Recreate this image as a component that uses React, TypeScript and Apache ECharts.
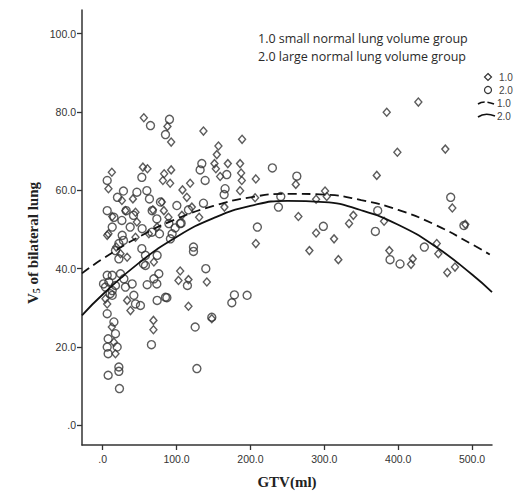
import React, { useEffect, useRef } from "react";
import * as echarts from "echarts";

// Group 1.0 (small normal lung volume) – diamonds: [GTV, V5]
const group1Points: number[][] = [
  [55.7, 78.5], [87.7, 76.3], [92.7, 72.3], [136.4, 75.1], [188.7, 73.0], [156.7, 71.3],
  [154.5, 69.1], [151.3, 66.8], [153.2, 65.5], [169.4, 66.8], [186.0, 66.8], [159.0, 63.5],
  [187.4, 64.4], [188.3, 62.5], [207.3, 62.9], [118.4, 61.8], [108.0, 60.1], [113.9, 58.2],
  [186.0, 59.9], [164.8, 55.7], [206.3, 58.1], [120.7, 55.7], [130.6, 53.1], [107.2, 53.6],
  [261.4, 61.5], [288.9, 57.7], [301.0, 59.8], [303.3, 58.4], [264.9, 53.3], [207.3, 46.4],
  [288.9, 49.1], [313.2, 47.6], [279.8, 44.6], [319.0, 42.3], [339.3, 53.6], [333.5, 51.5],
  [371.0, 63.8], [380.9, 52.1], [384.5, 79.9], [427.3, 82.5], [398.9, 69.7], [463.8, 70.5],
  [473.3, 55.5], [490.9, 51.3], [388.0, 44.6], [419.7, 42.5], [417.4, 41.1], [452.2, 46.4],
  [454.3, 43.8], [466.5, 39.0], [476.9, 40.4], [104.9, 39.4], [102.6, 37.0], [116.1, 37.2],
  [141.0, 36.6], [116.1, 30.4], [68.7, 26.8], [68.7, 24.4], [147.7, 27.2], [12.4, 64.6],
  [54.4, 65.9], [60.6, 65.5], [83.2, 64.2], [92.7, 65.2], [81.5, 62.5], [91.3, 61.8],
  [7.8, 60.4], [26.0, 57.4], [40.9, 57.8], [80.1, 57.0], [67.9, 55.0], [12.9, 53.3],
  [46.3, 51.9], [89.0, 53.1], [7.8, 48.9], [18.3, 45.5], [30.8, 54.8], [44.4, 54.4],
  [82.8, 54.8], [62.5, 48.9], [73.7, 50.6], [6.1, 48.5], [44.4, 48.0], [24.1, 43.8],
  [33.1, 42.9], [69.3, 41.7], [3.8, 32.3], [6.1, 31.0], [33.1, 31.9], [37.6, 29.3],
  [15.2, 21.2], [17.3, 18.3], [12.4, 25.1],
];

// Group 2.0 (large normal lung volume) – circles: [GTV, V5]
const group2Points: number[][] = [
  [64.7, 76.5], [90.4, 78.1], [85.0, 74.2], [134.2, 66.8], [131.9, 65.2], [168.0, 64.0],
  [138.7, 62.5], [165.7, 60.4], [164.4, 58.9], [136.4, 56.7], [100.4, 56.1], [116.1, 55.0],
  [106.2, 51.6], [229.7, 65.7], [262.8, 63.6], [241.1, 58.4], [237.9, 55.7], [209.4, 50.6],
  [298.7, 50.8], [372.3, 54.8], [369.1, 49.5], [471.1, 58.2], [489.0, 51.0], [389.0, 42.3],
  [402.5, 41.2], [435.4, 45.5], [122.9, 45.5], [122.9, 44.4], [114.7, 35.7], [139.6, 40.0],
  [178.3, 33.3], [174.8, 31.3], [195.5, 33.2], [147.7, 27.6], [125.2, 25.1], [127.5, 14.5],
  [53.0, 63.3], [28.1, 59.8], [20.0, 58.2], [46.3, 59.5], [59.8, 59.9], [63.3, 57.8],
  [31.8, 54.8], [41.7, 53.6], [26.0, 52.3], [73.3, 52.7], [37.2, 50.6], [76.9, 48.9],
  [66.6, 49.3], [98.1, 50.4], [104.9, 51.5], [28.1, 47.2], [53.0, 45.1], [78.2, 57.0],
  [67.0, 54.8], [15.2, 53.1], [12.9, 50.6], [53.4, 50.2], [89.6, 51.5], [26.4, 48.5],
  [94.0, 48.9], [21.9, 46.4], [17.3, 44.6], [91.7, 47.6], [57.9, 43.4], [21.9, 42.5],
  [73.7, 43.4], [57.9, 40.8], [12.9, 38.3], [24.1, 38.7], [28.7, 37.4], [8.4, 36.6],
  [39.9, 36.1], [17.3, 35.7], [76.0, 38.7], [69.3, 37.4], [60.2, 35.9], [3.8, 35.3],
  [12.9, 34.4], [30.8, 35.3], [12.9, 33.2], [42.2, 33.2], [44.4, 31.0], [51.1, 30.6],
  [73.7, 31.9], [85.0, 32.7], [66.0, 20.6], [15.2, 26.4], [17.3, 23.4], [7.4, 22.1],
  [6.1, 20.0], [19.6, 20.0], [7.4, 18.3], [21.9, 14.9], [21.9, 13.8], [7.4, 12.8],
  [22.7, 9.4], [55.2, 41.2], [86.9, 32.6], [1.1, 36.1], [10.1, 33.6], [73.3, 36.1],
  [6.1, 54.8], [6.1, 62.5], [6.1, 38.3], [6.1, 28.5],
];

// Fitted curves: [GTV, V5]
const fitGroup1: number[][] = [
  [-28, 38.8], [0, 42.5], [50, 48.2], [100, 52.7], [150, 56.0], [200, 58.2], [250, 59.1],
  [300, 58.9], [350, 57.5], [400, 55.0], [450, 51.2], [500, 46.2], [524, 43.6],
];
const fitGroup2: number[][] = [
  [-28, 28.1], [0, 33.4], [50, 41.6], [100, 48.1], [150, 52.9], [200, 56.0], [250, 57.3],
  [300, 57.0], [350, 54.9], [400, 51.2], [450, 45.7], [500, 38.5], [527, 34.0],
];

const xTicks = [0, 100, 200, 300, 400, 500];
const yTicks = [0, 20, 40, 60, 80, 100];
const headerLines = [
  "1.0 small normal lung volume group",
  "2.0 large normal lung volume group",
];
const legendLabels = ["1.0", "2.0", "1.0", "2.0"];

const fmt = (v: number) => (v === 0 ? ".0" : Number(v).toFixed(1));

export default function App() {
  const ref = useRef<HTMLDivElement>(null);

  useEffect(() => {
    if (!ref.current) return;
    const chart = echarts.init(ref.current, undefined, { renderer: "svg" });
    const ink = "#333";
    const axisCommon = {
      type: "value" as const,
      axisLine: { show: true, onZero: false, lineStyle: { color: "#333", width: 1.5 } },
      axisTick: { show: true, length: 5, inside: false, lineStyle: { color: "#333", width: 1.3 } },
      splitLine: { show: false },
      axisLabel: {
        color: "#333",
        fontFamily: "Liberation Sans, Arial, sans-serif",
        fontSize: 10.5,
        formatter: fmt,
      },
    };
    chart.setOption({
      animation: false,
      backgroundColor: "#fff",
      grid: { left: 82, right: 24, top: 10, bottom: 46 },
      xAxis: {
        ...axisCommon,
        min: -28,
        max: 527,
        axisTick: { ...axisCommon.axisTick, customValues: xTicks },
        axisLabel: { ...axisCommon.axisLabel, customValues: xTicks, margin: 8 },
      },
      yAxis: {
        ...axisCommon,
        min: -5,
        max: 106,
        axisTick: { ...axisCommon.axisTick, customValues: yTicks },
        axisLabel: { ...axisCommon.axisLabel, customValues: yTicks, margin: 6 },
      },
      series: [
        {
          type: "scatter",
          name: "1.0",
          data: group1Points,
          symbol: "diamond",
          symbolSize: [7, 8],
          itemStyle: { color: "rgba(0,0,0,0)", borderColor: ink, borderWidth: 1.4 },
          z: 2,
        },
        {
          type: "scatter",
          name: "2.0",
          data: group2Points,
          symbol: "circle",
          symbolSize: 8,
          itemStyle: { color: "rgba(0,0,0,0)", borderColor: ink, borderWidth: 1.4 },
          z: 2,
        },
        {
          type: "line",
          data: fitGroup1,
          smooth: true,
          showSymbol: false,
          clip: true,
          lineStyle: { color: "#111", width: 1.8, type: [9, 5] },
          z: 3,
        },
        {
          type: "line",
          data: fitGroup2,
          smooth: true,
          showSymbol: false,
          clip: true,
          lineStyle: { color: "#111", width: 1.8 },
          z: 3,
        },
      ],
      graphic: [
        {
          type: "text",
          left: 258,
          top: 29,
          style: {
            text: headerLines.join("\n"),
            font: "12.5px 'Open Sans', sans-serif",
            fill: "#2a2a2a",
            lineHeight: 18,
          },
        },
        {
          type: "text",
          x: 33,
          y: 243,
          rotation: Math.PI / 2,
          style: {
            text: "V{s|5} of bilateral lung",
            font: "bold 15px 'Liberation Serif', 'Times New Roman', serif",
            fill: "#222",
            align: "center",
            verticalAlign: "middle",
            rich: {
              s: {
                font: "bold 10px 'Liberation Serif', serif",
                fill: "#222",
                padding: [7, 0, 0, 0],
              },
            },
          },
        },
        {
          type: "text",
          x: 287,
          y: 482,
          style: {
            text: "GTV(ml)",
            font: "bold 15px 'Liberation Serif', 'Times New Roman', serif",
            fill: "#222",
            align: "center",
            verticalAlign: "middle",
          },
        },
        // right-hand legend
        {
          type: "polygon",
          shape: { points: [[488, 73.5], [491.5, 77], [488, 80.5], [484.5, 77]] },
          style: { fill: "none", stroke: ink, lineWidth: 1.2 },
        },
        {
          type: "circle",
          shape: { cx: 488, cy: 90, r: 3.5 },
          style: { fill: "none", stroke: ink, lineWidth: 1.2 },
        },
        {
          type: "bezierCurve",
          shape: { x1: 478, y1: 104, cpx1: 484, cpy1: 100, x2: 494, y2: 104 },
          style: { fill: "none", stroke: "#111", lineWidth: 1.6, lineDash: [7, 3] },
        },
        {
          type: "bezierCurve",
          shape: { x1: 478, y1: 117, cpx1: 485, cpy1: 112, x2: 495, y2: 116 },
          style: { fill: "none", stroke: "#111", lineWidth: 1.6 },
        },
        ...legendLabels.map((t, i) => ({
          type: "text",
          x: i < 2 ? 499 : 497,
          y: [77, 90, 103, 116][i],
          style: {
            text: t,
            font: "10px 'Liberation Sans', Arial, sans-serif",
            fill: "#444",
            verticalAlign: "middle",
          },
        })),
      ],
    });
    return () => chart.dispose();
  }, []);

  return (
    <div
      ref={ref}
      style={{ position: "fixed", left: 0, top: 0, width: 516, height: 491 }}
    />
  );
}
